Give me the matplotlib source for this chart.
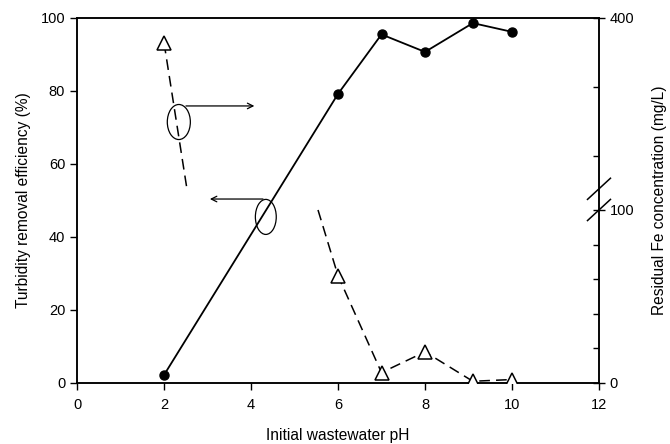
import matplotlib.pyplot as plt
import matplotlib.transforms as mtransforms
from matplotlib.patches import Ellipse

plt.rcParams['font.family'] = ['Liberation Sans', 'DejaVu Sans']

# turbidity removal (left axis)
ph_turb = [2, 6, 7, 8, 9.1, 10]
turbidity = [2.2, 79.2, 95.5, 90.7, 98.6, 96.2]

# residual Fe (right axis, broken scale)
ph_fe = [2, 6, 7, 8, 9.1, 10]
fe_conc = [364, 62, 6, 18, 1, 2]

# ends of the dashed line where it crosses the axis break
ph_break_top, fe_break_top = 2.53, 150
ph_break_low, fe_break_low = 5.54, 100


def fe_to_y(fe):
    # lower part 0-100 and upper part 150-400 share the 0-100 left scale
    if fe <= 100:
        return fe * 0.474
    return 52.9 + (fe - 150) * 0.1884


fig = plt.figure(figsize=(6.7, 4.44), dpi=100)
ax = fig.add_axes([0.115, 0.1374, 0.779, 0.8221])
ax2 = ax.twinx()

ax.plot(ph_turb, turbidity, 'k-', lw=1.3, marker='o', ms=6.5, zorder=3)

# dashed Fe line, split across the break
dash = dict(color='k', lw=1.1, dashes=(7, 4))
ax2.plot([ph_fe[0], ph_break_top], [fe_to_y(fe_conc[0]), fe_to_y(fe_break_top)], **dash)
ax2.plot([ph_break_low] + ph_fe[1:], [fe_to_y(fe_break_low)] + [fe_to_y(v) for v in fe_conc[1:]], **dash)
ax2.plot(ph_fe, [fe_to_y(v) for v in fe_conc], ls='none', marker='^', ms=9.5,
         mfc='white', mec='k', mew=1.1, zorder=4)

ax.set_xlim(0, 12)
ax.set_ylim(0, 100)
ax2.set_ylim(0, 100)
ax.set_xticks(range(0, 13, 2))
ax.set_yticks(range(0, 101, 20))

ax2.set_yticks([fe_to_y(v) for v in [0, 100, 400]])
ax2.set_yticklabels(['0', '100', '400'])
ax2.set_yticks([fe_to_y(v) for v in [20, 40, 60, 80, 200, 300]], minor=True)

ax.tick_params(axis='both', direction='out', length=5, width=1, labelsize=10.5, top=False)
ax.tick_params(axis='x', pad=6)
ax2.tick_params(axis='y', which='major', direction='inout', length=8, width=1, labelsize=10.5)
ax2.tick_params(axis='y', which='minor', direction='in', length=4, width=1)

for a in (ax, ax2):
    for s in a.spines.values():
        s.set_linewidth(1.1)

ax.set_xlabel('Initial wastewater pH', fontsize=11.2, labelpad=11)
ax.set_ylabel('Turbidity removal efficiency (%)', fontsize=11.2, labelpad=7)
ax2.set_ylabel('Residual Fe concentration (mg/L)', fontsize=11.2, labelpad=13)

# axis break marks on the right spine
trans = mtransforms.blended_transform_factory(ax2.transAxes, ax2.transData)
for yc in (53.2, 47.4):
    ax2.plot([0.978, 1.022], [yc - 2.9, yc + 2.9], color='k', lw=1.1,
             transform=trans, clip_on=False)

# annotation ellipses and arrows
ax.add_patch(Ellipse((2.34, 71.5), 0.53, 9.6, fill=False, ec='k', lw=0.9))
ax.annotate('', xy=(4.14, 75.9), xytext=(2.44, 75.9),
            arrowprops=dict(arrowstyle='->', color='k', lw=0.9))
ax.add_patch(Ellipse((4.34, 45.5), 0.48, 9.6, fill=False, ec='k', lw=0.9))
ax.annotate('', xy=(2.99, 50.4), xytext=(4.34, 50.4),
            arrowprops=dict(arrowstyle='->', color='k', lw=0.9))

fig.savefig('out.png', dpi=100)
